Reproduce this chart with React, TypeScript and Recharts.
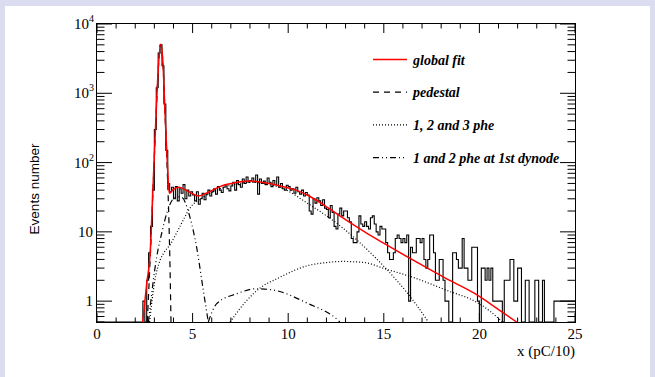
import React from "react";
import { LineChart, Line, XAxis, YAxis } from "recharts";

// plot frame (px inside the 655x377 page)
const L = 97;
const T = 24;
const W = 478;
const H = 298;
const YAXIS_W = 60;
const XAXIS_H = 30;

// histogram: counts per 0.1 wide bin, 0 .. 25
const binCounts = [
  0, 0, 0, 0, 0, 0, 0, 0, 0, 0,
  0, 0, 0, 0, 0, 0, 0, 0, 0, 0,
  0, 0, 0, 0, 1, 0, 2, 5, 12, 40,
  300, 1200, 3800, 5000, 2500, 700, 150, 50, 38, 44,
  30, 45, 28, 42, 36, 48, 30, 40, 33, 38,
  34, 28, 38, 25, 30, 36, 29, 35, 40, 33,
  38, 42, 35, 45, 40, 37, 44, 48, 42, 39,
  46, 52, 40, 55, 48, 44, 58, 50, 62, 52,
  55, 60, 52, 66, 35, 58, 50, 54, 48, 60,
  52, 45, 55, 48, 62, 44, 50, 42, 40, 47,
  45, 40, 42, 36, 44, 38, 35, 40, 33, 37,
  34, 20, 18, 30, 26, 31, 28, 24, 29, 22,
  21, 16, 24, 19, 12, 11, 18, 22, 17, 20,
  20, 16, 14, 8, 7, 7, 10, 17, 13, 12,
  14, 12, 11, 16, 17, 13, 10, 9, 12, 11,
  11, 7, 5, 4, 4, 5, 8, 9, 8, 7,
  8, 7, 9, 1, 6, 5, 5, 8, 8, 7,
  8, 4, 3, 4, 9, 9, 5, 2, 2, 4,
  4, 2, 1, 1, 0, 0, 5, 5, 4, 3,
  3, 8, 3, 3, 2, 2, 6, 6, 6, 1,
  0, 3, 3, 2, 3, 2, 3, 1, 1, 1,
  1, 1, 0, 2, 2, 2, 4, 4, 1, 1,
  3, 3, 0, 0, 2, 2, 0, 0, 0, 2,
  2, 0, 0, 2, 0, 0, 0, 0, 0, 1,
  1, 1, 1, 1, 1, 1, 1, 1, 1, 1,
];

// curves: [x, events]
const fitPoints = [
  [2.39, 0.5], [2.6, 1.8], [2.77, 4.5], [2.95, 60], [3.09, 500], [3.21, 2400],
  [3.33, 5100], [3.44, 3000], [3.56, 500], [3.68, 96], [3.78, 36], [3.99, 41],
  [4.3, 44], [4.8, 38], [5.3, 33], [5.8, 37], [6.43, 45], [7.2, 51], [8.0, 54],
  [8.8, 51], [9.57, 46], [10.3, 41], [11.05, 33.5], [12.0, 23], [12.8, 16.3],
  [14.0, 10], [14.9, 7.1], [16.54, 3.9], [18.29, 2.1], [19.77, 1.28],
  [21.08, 0.73], [21.95, 0.5],
];
const pedestalPoints = [
  [2.63, 0.5], [2.77, 3.5], [2.95, 55], [3.09, 480], [3.21, 2350], [3.33, 5050],
  [3.44, 2950], [3.56, 480], [3.68, 70], [3.76, 15], [3.82, 3], [3.87, 0.5],
];
const phe1Points = [
  [2.75, 0.5], [3.0, 1.8], [3.3, 3.9], [3.5, 5], [3.82, 6.5], [4.34, 12],
  [4.86, 22], [5.56, 31.6], [6.43, 41.8], [7.3, 49], [8.17, 52], [9.0, 48],
  [9.57, 44], [11.05, 25.4], [12.8, 11.7], [14.54, 4.3], [15.67, 2.0],
  [16.54, 1.02], [17.33, 0.5],
];
const phe2Points = [
  [6.96, 0.5], [7.83, 1.02], [8.6, 1.6], [9.4, 2.1], [11.05, 3.27], [12.0, 3.6],
  [12.8, 3.74], [14.0, 3.6], [15.06, 2.93], [16.54, 2.2], [18.29, 1.43],
  [19.9, 0.95], [20.6, 0.7], [21.2, 0.5],
];
const dyn1Points = [
  [2.69, 0.5], [3.12, 4.3], [3.4, 10], [3.64, 18.2], [3.99, 30], [4.2, 32],
  [4.43, 31.6], [4.86, 16.3], [5.21, 6], [5.56, 1.43], [5.82, 0.5],
];
const dyn2Points = [
  [5.82, 0.5], [6.26, 0.92], [7.31, 1.28], [8.35, 1.51], [9.2, 1.45],
  [11.05, 0.92], [12.54, 0.55], [12.7, 0.5],
];

const xTicks = Array.from({ length: 26 }, (_, i) => i);
const yTicks = [
  0.5, 0.6, 0.7, 0.8, 0.9,
  1, 2, 3, 4, 5, 6, 7, 8, 9,
  10, 20, 30, 40, 50, 60, 70, 80, 90,
  100, 200, 300, 400, 500, 600, 700, 800, 900,
  1000, 2000, 3000, 4000, 5000, 6000, 7000, 8000, 9000, 10000,
];

const legendItems = [
  { label: "global fit", color: "#ff0000", dash: undefined, width: 1.5 },
  { label: "pedestal", color: "#000", dash: "6 5", width: 1.2 },
  { label: "1, 2 and 3 phe", color: "#000", dash: "1 2", width: 1.2 },
  { label: "1 and 2 phe at 1st dynode", color: "#000", dash: "6 3 1 3 1 3", width: 1.2 },
];

const YMIN = 0.5;
const histData = binCounts.map((c, i) => ({ x: i / 10, y: Math.max(c, YMIN) }));
histData.push({ x: 25, y: Math.max(binCounts[binCounts.length - 1], YMIN) });
const toData = (pts: number[][]) => pts.map(([x, y]) => ({ x, y }));

const serif = "'Liberation Serif', 'Times New Roman', serif";

function XTick(props: any) {
  const { x, payload } = props;
  const v = payload.value;
  const major = v % 5 === 0;
  const len = major ? 9 : 4.5;
  const bottom = T + H;
  return (
    <g>
      <line x1={x} x2={x} y1={bottom} y2={bottom - len} stroke="#000" />
      <line x1={x} x2={x} y1={T} y2={T + len} stroke="#000" />
      {major && (
        <text x={x} y={bottom + 17} textAnchor="middle" fontFamily={serif} fontSize={15} fill="#000">
          {v}
        </text>
      )}
    </g>
  );
}

function YTick(props: any) {
  const { y, payload } = props;
  const v = payload.value;
  const lg = Math.log10(v);
  const major = Math.abs(lg - Math.round(lg)) < 1e-9;
  const len = major ? 15 : 7.5;
  const right = L + W;
  let label: React.ReactNode = null;
  if (major) {
    const e = Math.round(lg);
    label =
      e <= 1 ? (
        <text x={L - 4} y={y + 5} textAnchor="end" fontFamily={serif} fontSize={15} fill="#000">
          {v}
        </text>
      ) : (
        <text x={L - 3} y={y + 5} textAnchor="end" fontFamily={serif} fontSize={15} fill="#000">
          10
          <tspan dy={-7} fontSize={10}>
            {e}
          </tspan>
        </text>
      );
  }
  return (
    <g>
      <line x1={L} x2={L + len} y1={y} y2={y} stroke="#000" />
      <line x1={right} x2={right - len} y1={y} y2={y} stroke="#000" />
      {label}
    </g>
  );
}

export default function App() {
  return (
    <div
      style={{
        position: "absolute",
        left: 0,
        top: 0,
        width: 655,
        height: 377,
        background: "#dcdcf0",
        overflow: "hidden",
      }}
    >
      <div style={{ position: "absolute", left: 5, top: 6, width: 645, height: 371, background: "#fff" }} />
      <div style={{ position: "absolute", left: 0, top: 0 }}>
        <LineChart
          width={655}
          height={377}
          margin={{ top: T, left: L - YAXIS_W, right: 655 - L - W, bottom: 377 - T - H - XAXIS_H }}
        >
          <XAxis
            dataKey="x"
            type="number"
            domain={[0, 25]}
            ticks={xTicks}
            interval={0}
            allowDataOverflow
            height={XAXIS_H}
            tickLine={false}
            axisLine={false}
            tick={<XTick />}
          />
          <YAxis
            type="number"
            scale="log"
            domain={[YMIN, 10000]}
            ticks={yTicks}
            interval={0}
            allowDataOverflow
            width={YAXIS_W}
            tickLine={false}
            axisLine={false}
            tick={<YTick />}
          />
          <Line
            data={histData}
            dataKey="y"
            type="stepAfter"
            stroke="#000"
            strokeWidth={1.1}
            dot={false}
            isAnimationActive={false}
          />
          <Line data={toData(pedestalPoints)} dataKey="y" type="monotone" stroke="#000" strokeWidth={1.2} strokeDasharray="6 5" dot={false} isAnimationActive={false} />
          <Line data={toData(phe1Points)} dataKey="y" type="monotone" stroke="#000" strokeWidth={1.2} strokeDasharray="1 2" dot={false} isAnimationActive={false} />
          <Line data={toData(phe2Points)} dataKey="y" type="monotone" stroke="#000" strokeWidth={1.2} strokeDasharray="1 2" dot={false} isAnimationActive={false} />
          <Line data={toData(dyn1Points)} dataKey="y" type="monotone" stroke="#000" strokeWidth={1.2} strokeDasharray="6 3 1 3 1 3" dot={false} isAnimationActive={false} />
          <Line data={toData(dyn2Points)} dataKey="y" type="monotone" stroke="#000" strokeWidth={1.2} strokeDasharray="6 3 1 3 1 3" dot={false} isAnimationActive={false} />
          <Line data={toData(fitPoints)} dataKey="y" type="monotone" stroke="#ff0000" strokeWidth={1.5} dot={false} isAnimationActive={false} />
        </LineChart>
      </div>
      {/* frame */}
      <div
        style={{
          position: "absolute",
          left: L - 1,
          top: T - 1,
          width: W,
          height: H,
          border: "1.5px solid #000",
          pointerEvents: "none",
        }}
      />
      {/* legend */}
      <svg style={{ position: "absolute", left: 0, top: 0 }} width={655} height={377}>
        {legendItems.map((it, i) => {
          const y = 59.5 + i * 32.7;
          return (
            <g key={it.label}>
              <line x1={373} x2={407} y1={y} y2={y} stroke={it.color} strokeWidth={it.width} strokeDasharray={it.dash} />
              <text x={413} y={y + 5} fontFamily={serif} fontStyle="italic" fontWeight="bold" fontSize={14} fill="#000">
                {it.label}
              </text>
            </g>
          );
        })}
        <text
          transform="translate(39,189) rotate(-90)"
          textAnchor="middle"
          fontFamily="'Liberation Sans', Arial, sans-serif"
          fontSize={13.5}
          fill="#000"
        >
          Events number
        </text>
        <text x={575} y={356} textAnchor="end" fontFamily={serif} fontSize={15} fill="#000">
          x (pC/10)
        </text>
      </svg>
    </div>
  );
}
